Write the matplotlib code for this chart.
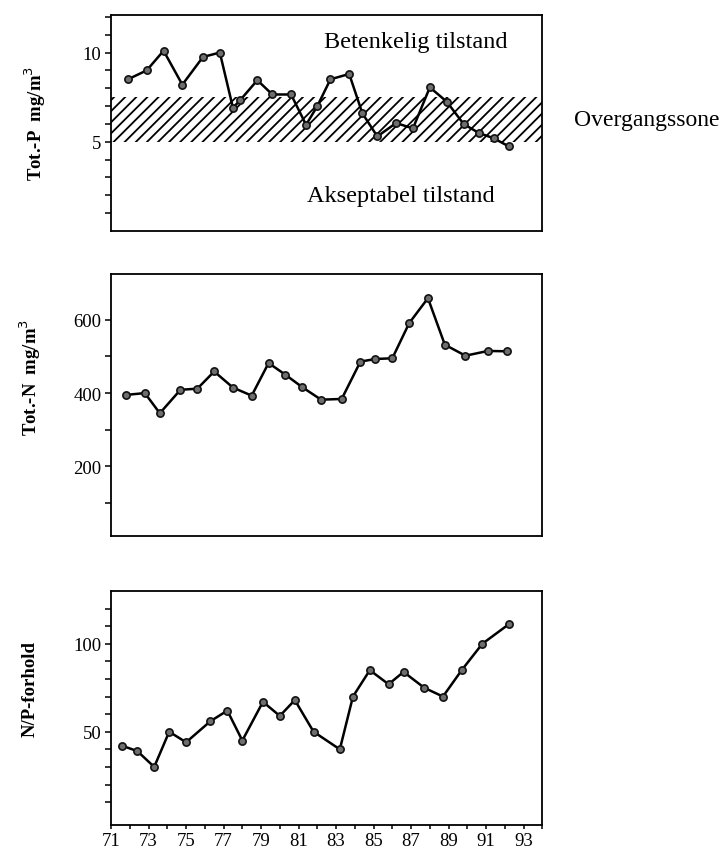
import matplotlib
matplotlib.use("Agg")
import matplotlib.pyplot as plt

# ==================================================
# DATA
# ==================================================
# Tot.-P (mg/m3), several samples per year in places
p_year = [71.9, 72.9, 73.8, 74.8, 75.9, 76.8, 77.5, 77.9, 78.8, 79.6, 80.6,
          81.4, 82.0, 82.7, 83.7, 84.4, 85.2, 86.2, 87.1, 88.0, 88.9, 89.8,
          90.6, 91.4, 92.2]
p_tot = [8.5, 9.0, 10.1, 8.2, 9.75, 10.0, 6.9, 7.35, 8.45, 7.65, 7.65,
         5.95, 7.0, 8.5, 8.8, 6.6, 5.3, 6.05, 5.75, 8.05, 7.25, 6.0,
         5.5, 5.2, 4.75]

# Tot.-N (mg/m3)
n_year = [71.8, 72.8, 73.6, 74.7, 75.6, 76.5, 77.5, 78.5, 79.4, 80.3, 81.2,
          82.2, 83.3, 84.3, 85.1, 86.0, 86.9, 87.9, 88.8, 89.9, 91.1, 92.1]
n_tot = [395, 400, 345, 409, 412, 459, 415, 393, 482, 450, 416,
         382, 384, 486, 493, 495, 591, 659, 532, 502, 515, 514]

# N/P ratio
np_year = [71.6, 72.4, 73.3, 74.1, 75.0, 76.3, 77.2, 78.0, 79.1, 80.0, 80.8,
           81.8, 83.2, 83.9, 84.8, 85.8, 86.6, 87.7, 88.7, 89.7, 90.8, 92.2]
np_ratio = [42, 39, 30, 50, 44, 56, 62, 45, 67, 59, 68,
            50, 40, 70, 85, 77, 84, 75, 70, 85, 100, 111]

zone_low, zone_high = 5.0, 7.5

# ==================================================
# STYLE
# ==================================================
plt.rcParams['font.family'] = ['Liberation Serif', 'DejaVu Serif']
plt.rcParams['hatch.linewidth'] = 1.3

line_kw = dict(color='black', lw=1.8, marker='o', ms=5.2,
               mfc='#6e6e6e', mec='#111111', mew=1.2)


def style_axis(ax, ylim, yticks, ylabels):
    ax.set_xlim(71, 94)
    ax.set_ylim(*ylim)
    ax.set_yticks(yticks)
    ax.set_yticklabels(ylabels, fontsize=13.5)
    ax.tick_params(axis='y', direction='out', length=4, width=1.1, pad=3)
    for sp in ax.spines.values():
        sp.set_linewidth(1.3)


fig = plt.figure(figsize=(7.26, 8.54), dpi=100)

# ==================================================
# TOP: Tot.-P
# ==================================================
ax1 = fig.add_axes([0.153, 0.7283, 0.594, 0.2529])
ax1.axhspan(zone_low, zone_high, facecolor='none', edgecolor='black',
            hatch='///', linewidth=0)
ax1.plot(p_year, p_tot, **line_kw)
style_axis(ax1, (0, 12.1), list(range(1, 13)),
           ['10' if v == 10 else '5' if v == 5 else '' for v in range(1, 13)])
ax1.tick_params(axis='x', bottom=False, labelbottom=False)
ax1.text(87.25, 10.6, "Betenkelig tilstand", ha='center', va='center', fontsize=17.5)
ax1.text(86.45, 2.0, "Akseptabel tilstand", ha='center', va='center', fontsize=17.5)
ax1.text(95.7, (zone_low + zone_high) / 2, "Overgangssone", ha='left',
         va='center', fontsize=17, clip_on=False)

# ==================================================
# MIDDLE: Tot.-N
# ==================================================
ax2 = fig.add_axes([0.153, 0.3712, 0.594, 0.3068])
ax2.plot(n_year, n_tot, **line_kw)
n_ticks = [100, 200, 300, 400, 500, 600]
style_axis(ax2, (10, 725), n_ticks,
           [str(v) if v % 200 == 0 else '' for v in n_ticks])
ax2.tick_params(axis='x', bottom=False, labelbottom=False)

# ==================================================
# BOTTOM: N/P ratio
# ==================================================
ax3 = fig.add_axes([0.153, 0.0328, 0.594, 0.274])
ax3.plot(np_year, np_ratio, **line_kw)
r_ticks = list(range(10, 130, 10))
style_axis(ax3, (-3, 130), r_ticks,
           [str(v) if v in (50, 100) else '' for v in r_ticks])
years = list(range(71, 95))
ax3.set_xticks(years)
ax3.set_xticklabels([str(y) if y % 2 == 1 else '' for y in years], fontsize=13.5)
ax3.tick_params(axis='x', direction='out', length=3, width=1.1, pad=2)

# ==================================================
# Y LABELS
# ==================================================
fig.text(0.048, 1 - 123 / 854, "Tot.-P  mg/m$^3$", rotation=90,
         ha='center', va='center', fontsize=13.5, fontweight='bold')
fig.text(0.042, 1 - 377 / 854, "Tot.-N  mg/m$^3$", rotation=90,
         ha='center', va='center', fontsize=13.5, fontweight='bold')
fig.text(0.042, 1 - 689 / 854, "N/P-forhold", rotation=90,
         ha='center', va='center', fontsize=13.5, fontweight='bold')

fig.savefig("out.png", dpi=100)
